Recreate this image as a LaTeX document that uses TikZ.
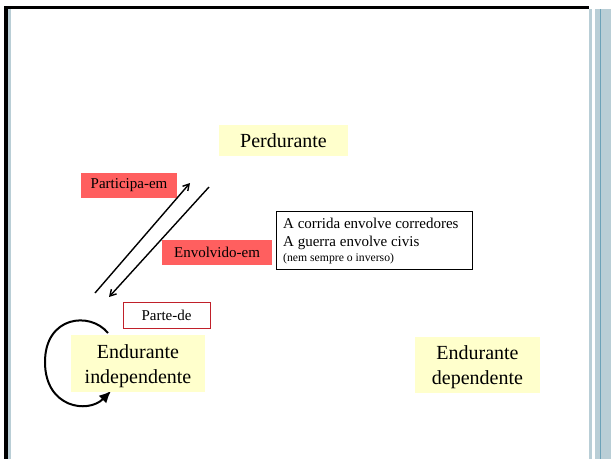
\documentclass[tikz,border=0pt]{standalone}
\usepackage{fontspec}
\setmainfont{Liberation Serif}
\usetikzlibrary{arrows.meta}
\definecolor{ybox}{HTML}{FFFFCC}
\definecolor{rbox}{HTML}{FF5F5F}
\definecolor{rline}{HTML}{C0202A}
\definecolor{lblue}{HTML}{B9CED6}
\definecolor{dblue}{HTML}{6CA2B8}
\tikzset{
  ybx/.style={fill=ybox,inner sep=0pt,align=center,font=\fontsize{20}{25}\selectfont},
  rbx/.style={fill=rbox,inner sep=0pt,font=\fontsize{15}{18}\selectfont},
  rel/.style={line width=1.4pt,-{Straight Barb[length=6pt,width=7pt]}},
}
\begin{document}
\begin{tikzpicture}[x=1pt,y=-1pt]
\useasboundingbox (0,0) rectangle (611,459);
\fill[white] (0,0) rectangle (611,459);
% frame
\fill[black] (4,6) rectangle (589,9);
\fill[black] (4,6) rectangle (7.5,459);
\fill[lblue] (8,9) rectangle (11,459);
\fill[lblue] (589,9) rectangle (592,459);
\fill[lblue] (594.5,9) rectangle (611,459);
\draw[dblue,line width=1pt] (600,9) -- (600,459);
% circular arrow
\coordinate (cs) at (108,333);
\coordinate (cl) at (45,362);
\coordinate (ce) at (111,391);
\draw[line width=2pt,-{Latex[length=12pt,width=11pt]}] (cs) .. controls (90,311) and (45,316) .. (cl) .. controls (45,408) and (88,414) .. (ce);
% nodes
\node[ybx,minimum width=129pt,minimum height=31pt] (perd) at (283.5,140.5) {Perdurante};
\node[ybx,minimum width=134pt,minimum height=57pt] (eind) at (138,363) {};
\node[ybx,fill=none] (eindt) at (138,366) {Endurante\\independente};
\node[ybx,minimum width=125pt,minimum height=56pt] (edep) at (477.5,365) {};
\node[ybx,fill=none] (edept) at (477.5,367) {Endurante\\dependente};
\node[rbx,minimum width=96pt,minimum height=25pt] (part) at (129,185.5) {Participa-em};
\node[rbx,minimum width=110pt,minimum height=25pt] (envo) at (217,252.5) {Envolvido-em};
\node[draw=rline,fill=white,line width=0.8pt,inner sep=0pt,minimum width=87pt,minimum height=26pt,font=\fontsize{15}{18}\selectfont] (pdd) at (166.5,315) {Parte-de};
\node[draw=black,line width=0.8pt,fill=white,minimum width=196pt,minimum height=58pt,inner sep=0pt] (ex) at (374,240) {};
\node[anchor=north west,inner sep=0pt,align=left,font=\fontsize{15}{17.5}\selectfont] (ext) at (283,218) {A corrida envolve corredores\\A guerra envolve civis\\[-2pt]{\fontsize{11.7}{14}\selectfont (nem sempre o inverso)}};
% relation arrows
\coordinate (a1s) at (95,293);
\coordinate (a1e) at (190,183);
\coordinate (a2s) at (209,187);
\coordinate (a2e) at (109,297);
\draw[rel] (a1s) -- (a1e);
\draw[rel] (a2s) -- (a2e);
\end{tikzpicture}
\end{document}
